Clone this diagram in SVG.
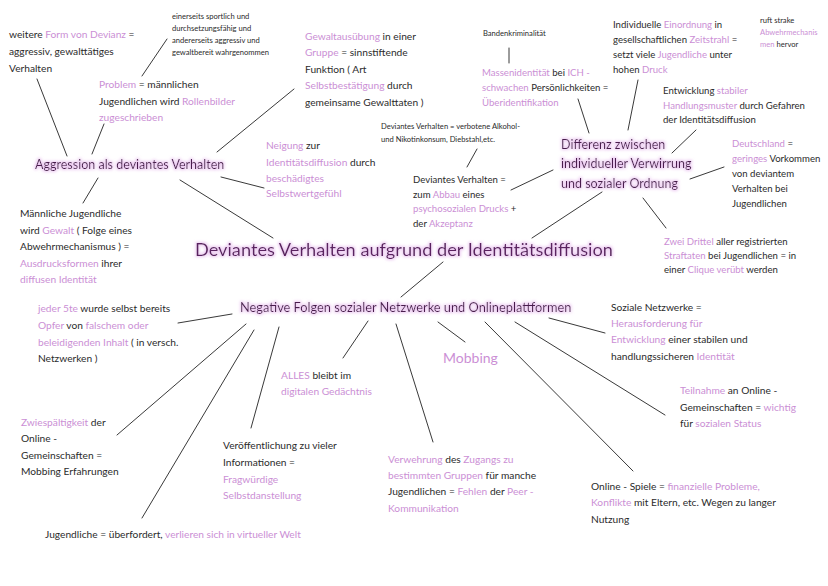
<svg xmlns="http://www.w3.org/2000/svg" width="828" height="586" viewBox="0 0 828 586">
<defs>
<style>
text{font-family:Lato,"Noto Sans","Liberation Sans",sans-serif;fill:#2b2b2b;}
.b{font-size:10.2px;}
.m{font-size:9.6px;}
.xs{font-size:7.6px;}
.p{fill:#cb8fd5;}
.h{font-size:12.5px;fill:#4a1d4e;filter:url(#glow);}
.hn{font-size:12.8px;fill:#4a1d4e;filter:url(#glow);}
.ttl{font-size:18.2px;fill:#5a2160;filter:url(#glow);}
.mob{font-size:14px;fill:#cb8fd5;}
#connectors line{stroke:#222;stroke-width:0.9;stroke-linecap:round;}
</style>
<filter id="glow" x="-5%" y="-40%" width="110%" height="180%">
<feMorphology in="SourceAlpha" operator="dilate" radius="0.7" result="d"/>
<feGaussianBlur in="d" stdDeviation="1.5" result="bl"/>
<feFlood flood-color="#e9c0ef" flood-opacity="0.85" result="c"/>
<feComposite in="c" in2="bl" operator="in" result="g"/>
<feMerge><feMergeNode in="g"/><feMergeNode in="SourceGraphic"/></feMerge>
</filter>
</defs>
<rect width="828" height="586" fill="#ffffff"/>
<g id="connectors">
<line x1="37" y1="79" x2="67" y2="156"/>
<line x1="104" y1="124" x2="92" y2="154"/>
<line x1="167" y1="39" x2="142" y2="76"/>
<line x1="294" y1="89" x2="217" y2="152"/>
<line x1="221" y1="177" x2="264" y2="188"/>
<line x1="180" y1="180" x2="273" y2="238"/>
<line x1="98" y1="178" x2="83" y2="203"/>
<line x1="509" y1="48" x2="509" y2="63"/>
<line x1="578" y1="99" x2="589" y2="133"/>
<line x1="638" y1="80" x2="628" y2="130"/>
<line x1="696" y1="130" x2="672" y2="153"/>
<line x1="724" y1="167" x2="690" y2="179"/>
<line x1="553" y1="170" x2="511" y2="190"/>
<line x1="477" y1="149" x2="467" y2="167"/>
<line x1="602" y1="192" x2="532" y2="238"/>
<line x1="643" y1="198" x2="666" y2="228"/>
<line x1="443" y1="262" x2="401" y2="297"/>
<line x1="232" y1="314" x2="178" y2="323"/>
<line x1="246" y1="324" x2="117" y2="435"/>
<line x1="254" y1="330" x2="142" y2="518"/>
<line x1="279" y1="327" x2="251" y2="428"/>
<line x1="368" y1="321" x2="343" y2="358"/>
<line x1="396" y1="324" x2="433" y2="442"/>
<line x1="438" y1="322" x2="465" y2="342"/>
<line x1="485" y1="322" x2="633" y2="471"/>
<line x1="515" y1="322" x2="665" y2="415"/>
<line x1="549" y1="318" x2="605" y2="333"/>
</g>
<g id="n-form-devianz" class="b">
<text x="9" y="38">weitere <tspan class="p">Form von Devianz</tspan> =</text>
<text x="9" y="55">aggressiv, gewalttätiges</text>
<text x="9" y="72">Verhalten</text>
</g>
<g id="n-sportlich" class="xs">
<text x="172" y="19">einerseits sportlich und</text>
<text x="172" y="31">durchsetzungsfähig und</text>
<text x="172" y="43">andererseits aggressiv und</text>
<text x="172" y="55">gewaltbereit wahrgenommen</text>
</g>
<g id="n-problem" class="b">
<text x="99" y="88"><tspan class="p">Problem</tspan> = männlichen</text>
<text x="99" y="105">Jugendlichen wird <tspan class="p">Rollenbilder</tspan></text>
<text x="99" y="121" class="p">zugeschrieben</text>
</g>
<g id="n-aggression">
<text x="35" y="169" class="h">Aggression als deviantes Verhalten</text>
</g>
<g id="n-gewaltausuebung" class="b">
<text x="305" y="40"><tspan class="p">Gewaltausübung</tspan> in einer</text>
<text x="305" y="56"><tspan class="p">Gruppe</tspan> = sinnstiftende</text>
<text x="305" y="73">Funktion ( Art</text>
<text x="305" y="89"><tspan class="p">Selbstbestätigung</tspan> durch</text>
<text x="305" y="106">gemeinsame Gewalttaten )</text>
</g>
<g id="n-banden" class="xs">
<text x="483" y="36">Bandenkriminalität</text>
</g>
<g id="n-massen" class="m">
<text x="482" y="76"><tspan class="p">Massenidentität</tspan> bei <tspan class="p">ICH -</tspan></text>
<text x="482" y="91"><tspan class="p">schwachen</tspan> Persönlichkeiten =</text>
<text x="482" y="106" class="p">Überidentifikation</text>
</g>
<g id="n-einordnung" class="m">
<text x="613" y="28">Individuelle <tspan class="p">Einordnung</tspan> in</text>
<text x="613" y="43">gesellschaftlichen <tspan class="p">Zeitstrahl</tspan> =</text>
<text x="613" y="58">setzt viele <tspan class="p">Jugendliche</tspan> unter</text>
<text x="613" y="73">hohen <tspan class="p">Druck</tspan></text>
</g>
<g id="n-abwehr" class="xs">
<text x="760" y="23">ruft strake</text>
<text x="760" y="35" class="p">Abwehrmechanis</text>
<text x="760" y="47"><tspan class="p">men</tspan> hervor</text>
</g>
<g id="n-entwicklung" class="m">
<text x="663" y="94">Entwicklung <tspan class="p">stabiler</tspan></text>
<text x="663" y="109"><tspan class="p">Handlungsmuster</tspan> durch Gefahren</text>
<text x="663" y="123">der Identitätsdiffusion</text>
</g>
<g id="n-differenz">
<text x="561" y="149" class="h">Differenz zwischen</text>
<text x="561" y="168" class="h">individueller Verwirrung</text>
<text x="561" y="188" class="h">und sozialer Ordnung</text>
</g>
<g id="n-deutschland" class="m">
<text x="732" y="147"><tspan class="p">Deutschland</tspan> =</text>
<text x="732" y="162"><tspan class="p">geringes</tspan> Vorkommen</text>
<text x="732" y="177">von deviantem</text>
<text x="732" y="192">Verhalten bei</text>
<text x="732" y="207">Jugendlichen</text>
</g>
<g id="n-alkohol" class="xs">
<text x="381" y="129">Deviantes Verhalten = verbotene Alkohol-</text>
<text x="381" y="142">und Nikotinkonsum, Diebstahl,etc.</text>
</g>
<g id="n-abbau" class="m">
<text x="413" y="183">Deviantes Verhalten =</text>
<text x="413" y="198">zum <tspan class="p">Abbau</tspan> eines</text>
<text x="413" y="212"><tspan class="p">psychosozialen Drucks</tspan> +</text>
<text x="413" y="227">der <tspan class="p">Akzeptanz</tspan></text>
</g>
<g id="n-title">
<text x="195" y="256" class="ttl">Deviantes Verhalten aufgrund der Identitätsdiffusion</text>
</g>
<g id="n-neigung" class="b">
<text x="266" y="149"><tspan class="p">Neigung</tspan> zur</text>
<text x="266" y="166"><tspan class="p">Identitätsdiffusion</tspan> durch</text>
<text x="266" y="182" class="p">beschädigtes</text>
<text x="266" y="197" class="p">Selbstwertgefühl</text>
</g>
<g id="n-maennlich" class="b">
<text x="20" y="217">Männliche Jugendliche</text>
<text x="20" y="234">wird <tspan class="p">Gewalt</tspan> ( Folge eines</text>
<text x="20" y="250">Abwehrmechanismus ) =</text>
<text x="20" y="267"><tspan class="p">Ausdrucksformen</tspan> ihrer</text>
<text x="20" y="283" class="p">diffusen Identität</text>
</g>
<g id="n-negative">
<text x="240" y="312" class="hn">Negative Folgen sozialer Netzwerke und Onlineplattformen</text>
</g>
<g id="n-jeder5te" class="b">
<text x="38" y="312"><tspan class="p">jeder 5te</tspan> wurde selbst bereits</text>
<text x="38" y="329"><tspan class="p">Opfer</tspan> von <tspan class="p">falschem oder</tspan></text>
<text x="38" y="346"><tspan class="p">beleidigenden Inhalt</tspan> ( in versch.</text>
<text x="38" y="362">Netzwerken )</text>
</g>
<g id="n-soziale" class="b">
<text x="611" y="311">Soziale Netzwerke =</text>
<text x="611" y="327" class="p">Herausforderung für</text>
<text x="611" y="343"><tspan class="p">Entwicklung</tspan> einer stabilen und</text>
<text x="611" y="360">handlungssicheren <tspan class="p">Identität</tspan></text>
</g>
<g id="n-zweidrittel" class="m">
<text x="664" y="245"><tspan class="p">Zwei Drittel</tspan> aller registrierten</text>
<text x="664" y="259"><tspan class="p">Straftaten</tspan> bei Jugendlichen = in</text>
<text x="664" y="273">einer <tspan class="p">Clique verübt</tspan> werden</text>
</g>
<g id="n-mobbing">
<text x="443" y="363" class="mob">Mobbing</text>
</g>
<g id="n-alles" class="b">
<text x="281" y="379"><tspan class="p">ALLES</tspan> bleibt im</text>
<text x="281" y="395" class="p">digitalen Gedächtnis</text>
</g>
<g id="n-zwiespalt" class="b">
<text x="21" y="426"><tspan class="p">Zwiespältigkeit</tspan> der</text>
<text x="21" y="442">Online -</text>
<text x="21" y="459">Gemeinschaften =</text>
<text x="21" y="475">Mobbing Erfahrungen</text>
</g>
<g id="n-veroeffentlichung" class="b">
<text x="223" y="449">Veröffentlichung zu vieler</text>
<text x="223" y="466">Informationen =</text>
<text x="223" y="483" class="p">Fragwürdige</text>
<text x="223" y="499" class="p">Selbstdanstellung</text>
</g>
<g id="n-verwehrung" class="b">
<text x="388" y="463"><tspan class="p">Verwehrung</tspan> des <tspan class="p">Zugangs zu</tspan></text>
<text x="388" y="479"><tspan class="p">bestimmten Gruppen</tspan> für manche</text>
<text x="388" y="495">Jugendlichen = <tspan class="p">Fehlen</tspan> der <tspan class="p">Peer -</tspan></text>
<text x="388" y="512" class="p">Kommunikation</text>
</g>
<g id="n-teilnahme" class="b">
<text x="680" y="394"><tspan class="p">Teilnahme</tspan> an Online -</text>
<text x="680" y="411">Gemeinschaften = <tspan class="p">wichtig</tspan></text>
<text x="680" y="427">für <tspan class="p">sozialen Status</tspan></text>
</g>
<g id="n-onlinespiele" class="b">
<text x="591" y="490">Online - Spiele = <tspan class="p">finanzielle Probleme,</tspan></text>
<text x="591" y="506"><tspan class="p">Konflikte</tspan> mit Eltern, etc. Wegen zu langer</text>
<text x="591" y="523">Nutzung</text>
</g>
<g id="n-ueberfordert" class="b">
<text x="45" y="538">Jugendliche = überfordert, <tspan class="p">verlieren sich in virtueller Welt</tspan></text>
</g>
</svg>
